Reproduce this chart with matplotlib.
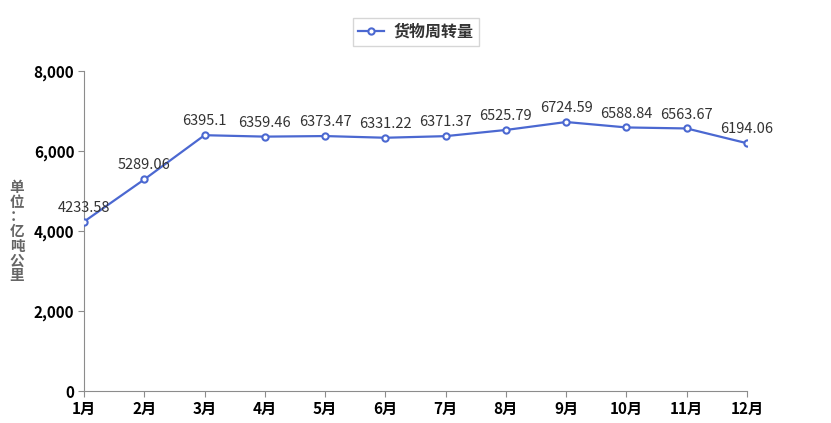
import matplotlib.pyplot as plt

plt.rcParams['font.family'] = ['Noto Sans CJK SC', 'DejaVu Sans']

months = ['1月', '2月', '3月', '4月', '5月', '6月', '7月', '8月', '9月', '10月', '11月', '12月']
values = [4233.58, 5289.06, 6395.1, 6359.46, 6373.47, 6331.22, 6371.37,
          6525.79, 6724.59, 6588.84, 6563.67, 6194.06]
value_labels = ['4233.58', '5289.06', '6395.1', '6359.46', '6373.47', '6331.22', '6371.37',
                '6525.79', '6724.59', '6588.84', '6563.67', '6194.06']
yticks = [0, 2000, 4000, 6000, 8000]

line_color = '#4b68d1'

fig = plt.figure(figsize=(8.31, 4.23), dpi=100)
ax = fig.add_axes([84 / 831, 1 - 391 / 423, 663 / 831, 320 / 423])

x = list(range(len(months)))
ax.plot(x, values, color=line_color, lw=1.6, marker='o', markersize=4.5,
        markerfacecolor='white', markeredgecolor=line_color, markeredgewidth=1.5,
        label='货物周转量', zorder=3)

for xi, v, s in zip(x, values, value_labels):
    ax.annotate(s, (xi, v), xytext=(0, 5), textcoords='offset points',
                ha='center', va='bottom', fontsize=10.5, color='#333333')

ax.set_xlim(0, len(months) - 1)
ax.set_ylim(0, 8000)
ax.set_xticks(x)
ax.set_xticklabels(months, fontsize=11, fontweight='bold')
ax.set_yticks(yticks)
ax.set_yticklabels([f'{t:,}' for t in yticks], fontsize=11, fontweight='bold')

for side in ['top', 'right']:
    ax.spines[side].set_visible(False)
for side in ['left', 'bottom']:
    ax.spines[side].set_color('#8c8c8c')
ax.tick_params(axis='both', colors='#8c8c8c', labelcolor='black', length=4, pad=3)

# vertical axis title, one character per line
fig.text(17 / 831, 1 - 231 / 423, '单\n位\n：\n亿\n吨\n公\n里', ha='center', va='center',
         fontsize=10.5, fontweight='bold', color='#666666', linespacing=0.9)

leg = fig.legend(loc='center', bbox_to_anchor=(416 / 831, 1 - 32 / 423),
                 prop={'weight': 'bold', 'size': 11.5}, frameon=True, fancybox=False,
                 edgecolor='#cccccc', handlelength=1.6, handletextpad=0.6, borderpad=0.35)
for t in leg.get_texts():
    t.set_color('#333333')

fig.savefig('out.png', dpi=100)
